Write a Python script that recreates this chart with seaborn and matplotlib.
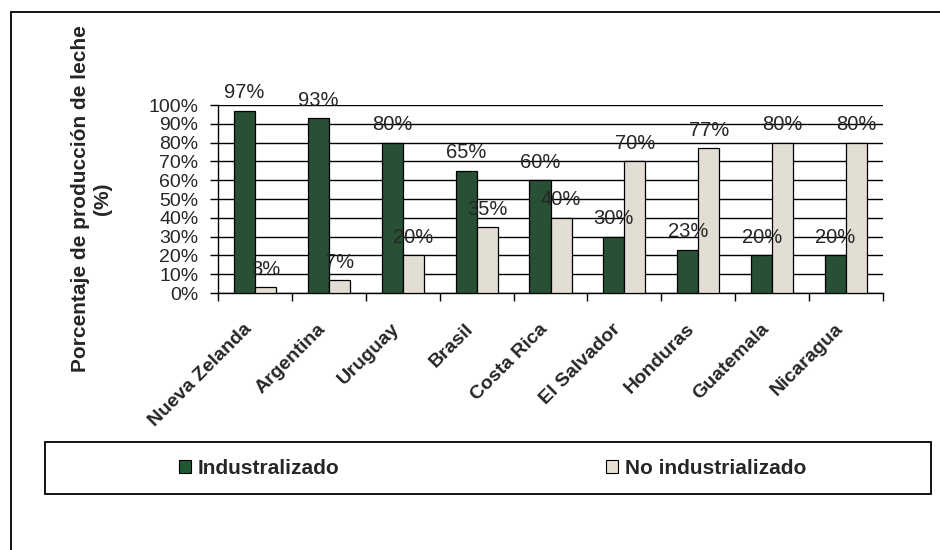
import numpy as np
import pandas as pd
import seaborn as sns
import matplotlib.pyplot as plt
import matplotlib.transforms as mtransforms
from matplotlib.patches import Rectangle, Patch
from matplotlib.ticker import FuncFormatter

paises = ['Nueva Zelanda', 'Argentina', 'Uruguay', 'Brasil', 'Costa Rica',
          'El Salvador', 'Honduras', 'Guatemala', 'Nicaragua']
industrializado = [97, 93, 80, 65, 60, 30, 23, 20, 20]
no_industrializado = [3, 7, 20, 35, 40, 70, 77, 80, 80]
series = ['Industralizado', 'No industrializado']
colores = ['#205733', '#e6dfd1']

df = pd.DataFrame({
    'pais': paises * 2,
    'valor': industrializado + no_industrializado,
    'tipo': [series[0]] * len(paises) + [series[1]] * len(paises),
})

sns.set_style('white')
plt.rcParams['font.family'] = ['Liberation Sans', 'DejaVu Sans']

fig = plt.figure(figsize=(9.4, 5.5), dpi=100)
ax = fig.add_axes([218 / 940, 257 / 550, 665 / 940, 188 / 550])

sns.barplot(data=df, x='pais', y='valor', hue='tipo', palette=colores,
            width=0.57, gap=0, edgecolor='black', linewidth=0.9,
            legend=False, ax=ax, zorder=3)

# etiquetas encima de cada barra
for cont in ax.containers:
    ax.bar_label(cont, fmt='%g%%', padding=6, fontsize=14.5, zorder=4)

ax.set_ylim(0, 100)
ax.set_xlim(-0.5, len(paises) - 0.5)
ax.set_yticks(np.arange(0, 101, 10))
ax.yaxis.set_major_formatter(FuncFormatter(lambda v, p: f'{v:.0f}%'))
ax.yaxis.grid(True, color='black', linewidth=1)
ax.set_axisbelow(True)
ax.tick_params(axis='y', length=6, width=1, direction='out', left=True,
               labelsize=14, pad=8, color='black')

# marcas del eje x entre categorias
ax.set_xticks(np.arange(-0.5, len(paises), 1), minor=True)
ax.tick_params(axis='x', which='minor', length=6, width=1, direction='out',
               bottom=True, color='black')
ax.tick_params(axis='x', which='major', length=0, pad=6)
ax.set_xticks(range(len(paises)))
ax.set_xticklabels(paises, rotation=45, ha='right', rotation_mode='anchor',
                   fontsize=14, fontweight='bold')
desplaza = mtransforms.ScaledTranslation(-0.12, -0.19, fig.dpi_scale_trans)
for lbl in ax.get_xticklabels():
    lbl.set_transform(lbl.get_transform() + desplaza)

for s in ['top', 'right']:
    ax.spines[s].set_visible(False)
for s in ['left', 'bottom']:
    ax.spines[s].set_color('black')
    ax.spines[s].set_linewidth(1)

ax.set_xlabel('')
ax.set_ylabel('Porcentaje de producción de leche\n(%)', fontsize=15,
              fontweight='bold', linespacing=1.2)
ax.yaxis.set_label_coords(-0.16, 0.5)

# marco exterior y marco de la leyenda
fig.patches.append(Rectangle((11 / 940, -0.05), 1.1, 1 - 12 / 550 + 0.05,
                             transform=fig.transFigure, fill=False,
                             edgecolor='black', linewidth=1.3))
fig.patches.append(Rectangle((45 / 940, 56 / 550), 886 / 940, 52 / 550,
                             transform=fig.transFigure, fill=False,
                             edgecolor='black', linewidth=1.3))

handles = [Patch(facecolor=c, edgecolor='black', linewidth=0.8) for c in colores]
leg = fig.legend(handles, series, loc='center left',
                 bbox_to_anchor=(160 / 940, 82 / 550), ncol=2, frameon=False,
                 handlelength=0.6, handleheight=0.6, handletextpad=0.3,
                 columnspacing=12.8, prop={'weight': 'bold', 'size': 15})

fig.savefig('out.png', dpi=100)
